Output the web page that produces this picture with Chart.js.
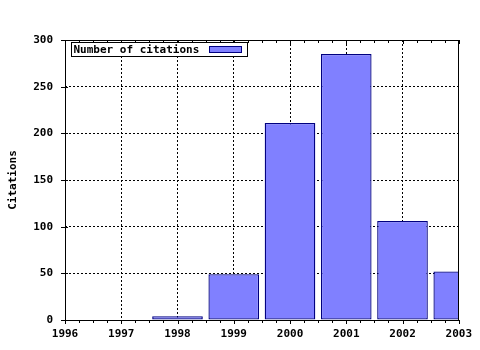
<!DOCTYPE html>
<html>
<head>
<meta charset="utf-8">
<script src="https://cdn.jsdelivr.net/npm/chart.js@4.4.1/dist/chart.umd.min.js"></script>
<style>
    html, body { margin: 0; padding: 0; background: #ffffff; }
    #wrap { width: 480px; height: 350px; }
</style>
</head>
<body>
<div id="wrap"><canvas id="chart" width="480" height="350"></canvas></div>
<script>
// Citations per year
const years = [1998, 1999, 2000, 2001, 2002, 2003];
const citations = [4, 49, 211, 285, 106, 52];
const seriesLabel = "Number of citations";
const yTitle = "Citations";

const monoFont = "'DejaVu Sans Mono', 'Liberation Mono', monospace";

// Frame, inward/outward ticks and the boxed legend, gnuplot style
const framePlugin = {
    id: "frame",
    afterDraw(chart) {
        const ctx = chart.ctx;
        const area = chart.chartArea;
        const xs = chart.scales.x;
        const ys = chart.scales.y;
        ctx.save();
        ctx.strokeStyle = "#000";
        ctx.lineWidth = 1;
        ctx.setLineDash([]);
        ctx.beginPath();
        // x ticks, major and minor (quarter year)
        for (let v = xs.min; v <= xs.max + 0.001; v += 0.25) {
            const px = Math.round(xs.getPixelForValue(v)) + 0.5;
            const major = Math.abs(v - Math.round(v)) < 0.01;
            const len = major ? 4 : 3;
            ctx.moveTo(px, area.bottom);
            ctx.lineTo(px, area.bottom + len);
            ctx.moveTo(px, area.top);
            ctx.lineTo(px, area.top + len);
        }
        // y ticks
        for (let v = ys.min; v <= ys.max; v += 50) {
            const py = Math.round(ys.getPixelForValue(v)) + 0.5;
            ctx.moveTo(area.left - 4, py);
            ctx.lineTo(area.left + 3, py);
        }
        ctx.stroke();
        ctx.strokeRect(Math.round(area.left) + 0.5, Math.round(area.top) + 0.5,
            Math.round(area.right - area.left) - 1, Math.round(area.bottom - area.top));

        // legend box
        const ds = chart.data.datasets[0];
        ctx.font = "bold 11px " + monoFont;
        const tw = ctx.measureText(ds.label).width;
        const bx = Math.round(area.left) + 6.5;
        const by = Math.round(area.top) + 2.5;
        const bw = Math.round(tw) + 50;
        const bh = 14;
        ctx.fillStyle = "#fff";
        ctx.fillRect(bx, by, bw, bh);
        ctx.strokeRect(bx, by, bw, bh);
        ctx.fillStyle = "#000";
        ctx.textBaseline = "middle";
        ctx.textAlign = "left";
        ctx.fillText(ds.label, bx + 2, by + bh / 2 + 0.5);
        const sx = bx + bw - 38;
        ctx.fillStyle = ds.backgroundColor;
        ctx.fillRect(sx, by + 4, 32, 6);
        ctx.strokeStyle = ds.borderColor;
        ctx.strokeRect(sx, by + 4, 32, 6);
        ctx.restore();
    }
};

const barData = years.map((y, i) => ({ x: y, y: citations[i] }));

new Chart(document.getElementById("chart"), {
    type: "bar",
    data: {
        datasets: [{
            label: seriesLabel,
            data: barData,
            backgroundColor: "#8080ff",
            borderColor: "#000080",
            borderWidth: 1.3,
            borderSkipped: false,
            barPercentage: 0.9,
            categoryPercentage: 1.0
        }]
    },
    options: {
        responsive: false,
        animation: false,
        layout: { padding: { top: 40, right: 21, left: 0, bottom: 0 } },
        plugins: {
            legend: { display: false },
            tooltip: { enabled: false }
        },
        scales: {
            x: {
                type: "linear",
                min: 1996,
                max: 2003,
                offset: false,
                afterFit: function (scale) { scale.height = 30; },
                ticks: {
                    stepSize: 1,
                    padding: 8,
                    color: "#000",
                    font: { family: monoFont, size: 11, weight: "bold" },
                    callback: function (v) { return String(v); }
                },
                grid: { color: "#000", drawTicks: false, lineWidth: 1, offset: false },
                border: { display: false, dash: [2, 2] }
            },
            y: {
                min: 0,
                max: 300,
                afterFit: function (scale) { scale.width = 65; },
                ticks: {
                    stepSize: 50,
                    padding: 12,
                    color: "#000",
                    font: { family: monoFont, size: 11, weight: "bold" }
                },
                grid: { color: "#000", drawTicks: false, lineWidth: 1 },
                border: { display: false, dash: [2, 2] },
                title: {
                    display: true,
                    text: yTitle,
                    color: "#000",
                    font: { family: monoFont, size: 11, weight: "bold" },
                    padding: { top: 7, bottom: 0 }
                }
            }
        }
    },
    plugins: [framePlugin]
});
</script>
</body>
</html>
